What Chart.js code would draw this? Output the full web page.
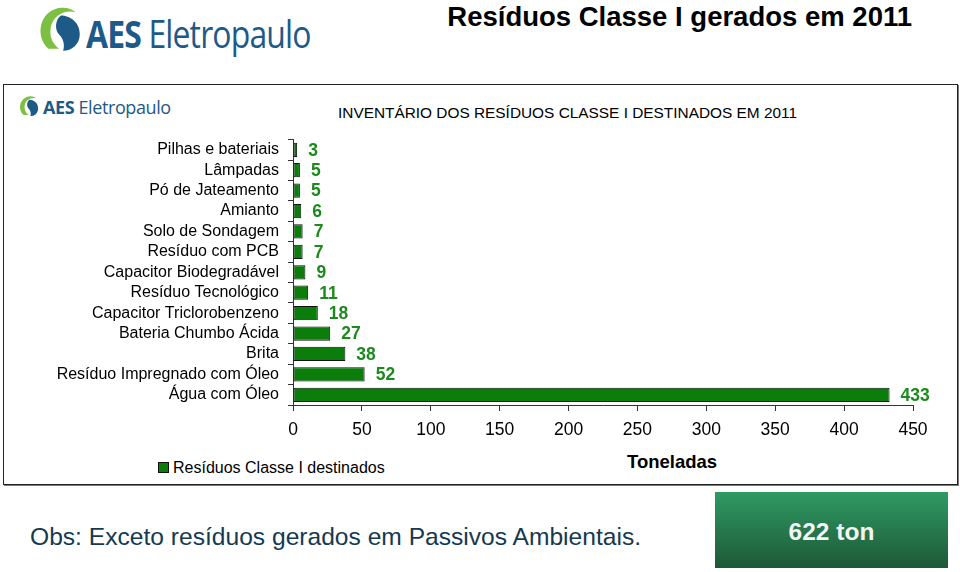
<!DOCTYPE html>
<html>
<head>
<meta charset="utf-8">
<script src="https://cdn.jsdelivr.net/npm/chart.js@4/dist/chart.umd.min.js"></script>
<style>
  body { margin: 0; width: 960px; height: 572px; background: #fff; position: relative; overflow: hidden; font-family: "Liberation Sans", Arial, sans-serif; }
  .abs { position: absolute; }
  .logo-text { color: #1d5a88; font-family: "Open Sans", sans-serif; white-space: nowrap; transform-origin: 0 0; }
  .logo-text b { font-weight: 700; }
  #title { right: 48px; top: 0; font-size: 27.5px; font-weight: bold; color: #000; line-height: 34px; }
  #frame { left: 3px; top: 84px; width: 953px; height: 399px; border: 1px solid #222; box-shadow: 1px 1px 0 #777; }
  #subtitle { left: 338px; top: 104px; font-size: 15.4px; color: #000; }
  #chart-wrap { left: 0; top: 121px; width: 960px; height: 329px; }
  #xtitle { left: 627px; top: 451px; font-size: 18.5px; font-weight: bold; }
  #legend { left: 158px; top: 459px; font-size: 16px; line-height: 18px; }
  #legend span.box { display: inline-block; width: 9px; height: 9px; background: #0a7d0a; border: 1px solid #111; margin-right: 4px; vertical-align: 0px; }
  #obs { left: 30px; top: 523px; font-size: 24.6px; color: #15394f; }
  #total { left: 715px; top: 492px; width: 233px; height: 76px; background: linear-gradient(#2f9a64, #1d5836); color: #f4f4f4; font-size: 24.5px; font-weight: bold; line-height: 80px; text-align: center; }
</style>
</head>
<body>

<!-- big logo -->
<svg class="abs" style="left:34px;top:3px" width="52" height="52" viewBox="0 0 50 50">
  <path d="M14 44 C2 34 4 12 20 6 C28 3 36 5 40 9 C30 6 18 12 16 24 C15 32 17 38 24 44 Z" fill="#7cbf42"/>
  <path d="M26 12 C34 12 44 18 44 30 C44 40 36 46 28 46 C30 40 28 34 24 30 C20 26 20 16 26 12 Z" fill="#1d5a88"/>
</svg>
<div class="abs logo-text" style="left:86px;top:7px;font-size:38px;letter-spacing:-1px;transform:scaleX(0.84)"><b>AES</b> Eletropaulo</div>

<div class="abs" id="title">Resíduos Classe I gerados em 2011</div>

<div class="abs" id="frame"></div>

<!-- small logo -->
<svg class="abs" style="left:17px;top:94px" width="24" height="24" viewBox="0 0 50 50">
  <path d="M14 44 C2 34 4 12 20 6 C28 3 36 5 40 9 C30 6 18 12 16 24 C15 32 17 38 24 44 Z" fill="#7cbf42"/>
  <path d="M26 12 C34 12 44 18 44 30 C44 40 36 46 28 46 C30 40 28 34 24 30 C20 26 20 16 26 12 Z" fill="#1d5a88"/>
</svg>
<div class="abs logo-text" style="left:43px;top:95px;font-size:18px;letter-spacing:-0.4px"><b>AES</b> Eletropaulo</div>

<div class="abs" id="subtitle">INVENTÁRIO DOS RESÍDUOS CLASSE I DESTINADOS EM 2011</div>

<div class="abs" id="chart-wrap"><canvas id="residuos-chart" width="960" height="329"></canvas></div>

<div class="abs" id="xtitle">Toneladas</div>
<div class="abs" id="legend"><span class="box"></span>Resíduos Classe I destinados</div>

<div class="abs" id="obs">Obs: Exceto resíduos gerados em Passivos Ambientais.</div>
<div class="abs" id="total">622 ton</div>

<script>
const categories = [
  'Pilhas e bateriais',
  'Lâmpadas',
  'Pó de Jateamento',
  'Amianto',
  'Solo de Sondagem',
  'Resíduo com PCB',
  'Capacitor Biodegradável',
  'Resíduo Tecnológico',
  'Capacitor Triclorobenzeno',
  'Bateria Chumbo Ácida',
  'Brita',
  'Resíduo Impregnado com Óleo',
  'Água com Óleo',
];
const toneladas = [3, 5, 5, 6, 7, 7, 9, 11, 18, 27, 38, 52, 433];
const xTicks = [0, 50, 100, 150, 200, 250, 300, 350, 400, 450];

const FONT = '"Liberation Sans", Arial, sans-serif';

// value labels at the end of each bar
const valueLabels = {
  id: 'valueLabels',
  afterDatasetsDraw(chart) {
    const ctx = chart.ctx;
    const meta = chart.getDatasetMeta(0);
    ctx.save();
    ctx.font = 'bold 17.5px ' + FONT;
    ctx.fillStyle = '#1d8a1d';
    ctx.textAlign = 'left';
    ctx.textBaseline = 'middle';
    meta.data.forEach((bar, i) => {
      ctx.fillText(String(toneladas[i]), bar.x + 11, bar.y + 1);
    });
    ctx.restore();
  },
};

function DrawChart() {
  let ctx = document.getElementById('residuos-chart').getContext('2d');
  new Chart(ctx, {
    type: 'bar',
    data: {
      labels: categories,
      datasets: [
        {
          label: 'Resíduos Classe I destinados',
          data: toneladas,
          backgroundColor: '#0a7d0a',
          borderColor: '#111',
          borderWidth: 1,
          borderSkipped: false,
          categoryPercentage: 1,
          barPercentage: 0.7,
        },
      ],
    },
    options: {
      indexAxis: 'y',
      responsive: false,
      animation: false,
      layout: { padding: { top: 0, right: 47, left: 0, bottom: 0 } },
      plugins: {
        legend: { display: false },
        tooltip: { enabled: false },
      },
      scales: {
        x: {
          min: 0,
          max: 450,
          afterFit(scale) { scale.height = 45; },
          afterBuildTicks(scale) { scale.ticks = xTicks.map((v) => ({ value: v })); },
          border: { display: true, color: '#333', width: 1 },
          grid: { drawOnChartArea: false, drawTicks: true, tickLength: 6, color: '#333' },
          ticks: { color: '#000', padding: 9, font: { size: 17.5, family: FONT } },
        },
        y: {
          afterFit(scale) { scale.width = 293; },
          border: { display: true, color: '#333', width: 1 },
          grid: { drawOnChartArea: false, drawTicks: true, tickLength: 5, color: '#333', offset: true },
          ticks: { color: '#000', padding: 9, autoSkip: false, font: { size: 16, family: FONT } },
        },
      },
    },
    plugins: [valueLabels],
  });
}

DrawChart();
</script>
</body>
</html>
